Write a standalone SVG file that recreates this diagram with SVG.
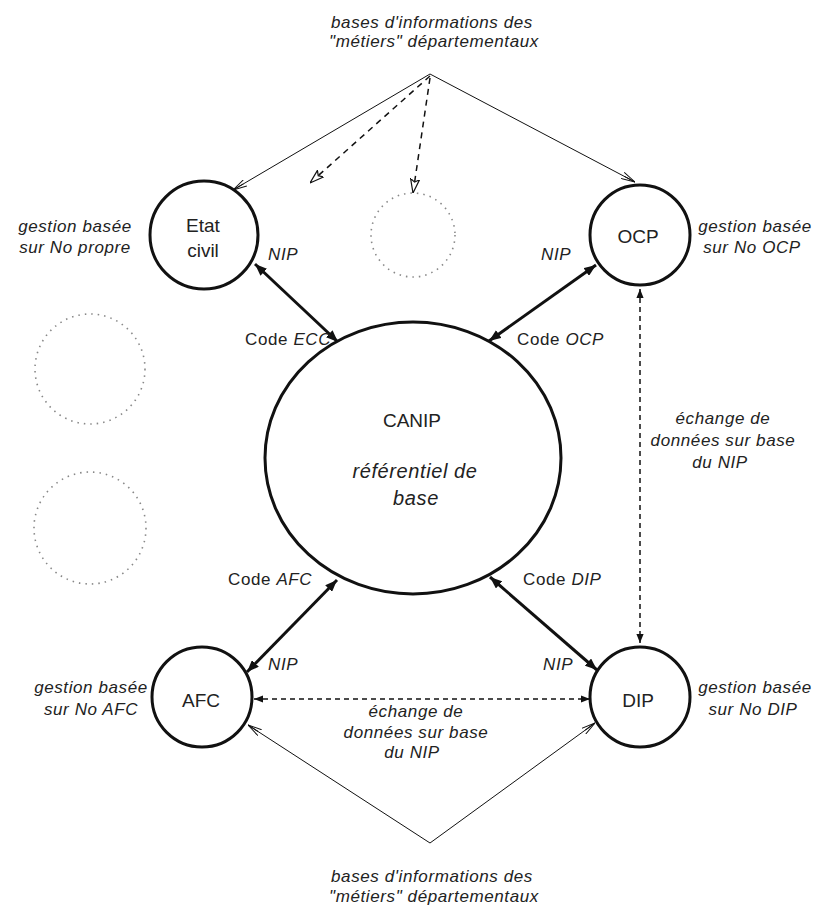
<svg xmlns="http://www.w3.org/2000/svg" width="814" height="906" viewBox="0 0 814 906">
<defs>
<style>
.node{fill:#fff;stroke:#111;stroke-width:3}
.ghost{fill:none;stroke:#888;stroke-width:1.6;stroke-dasharray:1.5 5}
.lbl{font-family:"Liberation Sans",Arial,sans-serif;font-size:19px;fill:#222;text-anchor:middle}
.it{font-family:"Liberation Sans",Arial,sans-serif;font-size:17px;font-style:italic;fill:#222;letter-spacing:0.6px}
.mid{text-anchor:middle}
.up{font-style:normal}
.thick{stroke:#111;stroke-width:3;fill:none;marker-start:url(#fs);marker-end:url(#fe)}
.dash{stroke:#111;stroke-width:1.5;fill:none;stroke-dasharray:5 4;marker-start:url(#ds);marker-end:url(#de)}
.thin{stroke:#111;stroke-width:1;fill:none;marker-end:url(#open)}
.thind{stroke:#111;stroke-width:1.5;fill:none;stroke-dasharray:6 5;marker-end:url(#open2)}
</style>
<marker id="fe" viewBox="0 0 10 8" refX="10" refY="4" markerWidth="4" markerHeight="3.2" orient="auto" markerUnits="strokeWidth"><path d="M0,0 L10,4 L0,8 z" fill="#111"/></marker>
<marker id="fs" viewBox="0 0 10 8" refX="0" refY="4" markerWidth="4" markerHeight="3.2" orient="auto" markerUnits="strokeWidth"><path d="M10,0 L0,4 L10,8 z" fill="#111"/></marker>
<marker id="de" viewBox="0 0 10 8" refX="10" refY="4" markerWidth="6" markerHeight="5" orient="auto" markerUnits="strokeWidth"><path d="M0,0 L10,4 L0,8 z" fill="#111"/></marker>
<marker id="ds" viewBox="0 0 10 8" refX="0" refY="4" markerWidth="6" markerHeight="5" orient="auto" markerUnits="strokeWidth"><path d="M10,0 L0,4 L10,8 z" fill="#111"/></marker>
<marker id="open" viewBox="0 0 14 8" refX="14" refY="4" markerWidth="14" markerHeight="8" orient="auto" markerUnits="userSpaceOnUse"><path d="M0,0.5 L14,4 L0,7.5" fill="none" stroke="#111" stroke-width="1"/><path d="M2,4 L14,4" stroke="#111" stroke-width="1"/></marker>
<marker id="open2" viewBox="0 0 14 10" refX="14" refY="5" markerWidth="14" markerHeight="10" orient="auto" markerUnits="userSpaceOnUse"><path d="M0,0.5 L14,5 L0,9.5 L3,5 z" fill="#fff" stroke="#111" stroke-width="1.2"/></marker>
</defs>
<rect width="814" height="906" fill="#fff"/>

<g id="ghosts">
<circle class="ghost" cx="413" cy="235" r="42"/>
<circle class="ghost" cx="90" cy="369" r="55"/>
<circle class="ghost" cx="90" cy="528" r="56"/>
</g>

<g id="connectors">
<line class="thin" x1="430" y1="74" x2="233" y2="190"/>
<line class="thin" x1="430" y1="74" x2="635" y2="182"/>
<line class="thind" x1="430" y1="76" x2="310" y2="183"/>
<line class="thind" x1="430" y1="78" x2="413" y2="193"/>
<line class="thin" x1="430" y1="843" x2="248" y2="725"/>
<line class="thin" x1="430" y1="843" x2="595" y2="723"/>
<line class="thick" x1="255" y1="264" x2="338" y2="342"/>
<line class="thick" x1="596" y1="265" x2="489" y2="341"/>
<line class="thick" x1="247" y1="672" x2="337" y2="580"/>
<line class="thick" x1="597" y1="670" x2="490" y2="577"/>
<line class="dash" x1="640" y1="289" x2="640" y2="643"/>
<line class="dash" x1="254" y1="699" x2="590" y2="699"/>
</g>

<g id="canip">
<ellipse class="node" cx="413" cy="458" rx="148" ry="136"/>
<text class="lbl" x="412" y="427">CANIP</text>
<text class="it mid" x="415" y="478" style="font-size:20px">référentiel de</text>
<text class="it mid" x="416" y="505" style="font-size:20px">base</text>
</g>

<g id="etat-civil">
<circle class="node" cx="204" cy="235" r="54"/>
<text class="lbl" x="203" y="232">Etat</text>
<text class="lbl" x="203" y="257">civil</text>
</g>

<g id="ocp">
<circle class="node" cx="640" cy="235" r="50"/>
<text class="lbl" x="638" y="243">OCP</text>
</g>

<g id="afc">
<circle class="node" cx="202" cy="697" r="50"/>
<text class="lbl" x="201" y="707">AFC</text>
</g>

<g id="dip">
<circle class="node" cx="640" cy="697" r="50"/>
<text class="lbl" x="638" y="707">DIP</text>
</g>

<g id="labels">
<text class="it mid" x="432" y="28">bases d'informations des</text>
<text class="it mid" x="434" y="47">"métiers" départementaux</text>
<text class="it mid" x="432" y="882">bases d'informations des</text>
<text class="it mid" x="434" y="902">"métiers" départementaux</text>

<text class="it mid" x="75" y="232">gestion basée</text>
<text class="it mid" x="75" y="253">sur No propre</text>
<text class="it mid" x="755" y="232">gestion basée</text>
<text class="it mid" x="752" y="253">sur No OCP</text>
<text class="it mid" x="91" y="693">gestion basée</text>
<text class="it mid" x="91" y="715">sur No AFC</text>
<text class="it mid" x="755" y="693">gestion basée</text>
<text class="it mid" x="753" y="715">sur No DIP</text>

<text class="it" x="268" y="260">NIP</text>
<text class="it" x="541" y="260">NIP</text>
<text class="it" x="268" y="670">NIP</text>
<text class="it" x="543" y="670">NIP</text>

<text class="it" x="245" y="345"><tspan class="up">Code </tspan>ECC</text>
<text class="it" x="517" y="345"><tspan class="up">Code </tspan>OCP</text>
<text class="it" x="228" y="585"><tspan class="up">Code </tspan>AFC</text>
<text class="it" x="523" y="585"><tspan class="up">Code </tspan>DIP</text>

<text class="it mid" x="723" y="424">échange de</text>
<text class="it mid" x="723" y="446">données sur base</text>
<text class="it mid" x="720" y="468">du NIP</text>

<text class="it mid" x="416" y="717">échange de</text>
<text class="it mid" x="416" y="738">données sur base</text>
<text class="it mid" x="412" y="758">du NIP</text>
</g>
</svg>
